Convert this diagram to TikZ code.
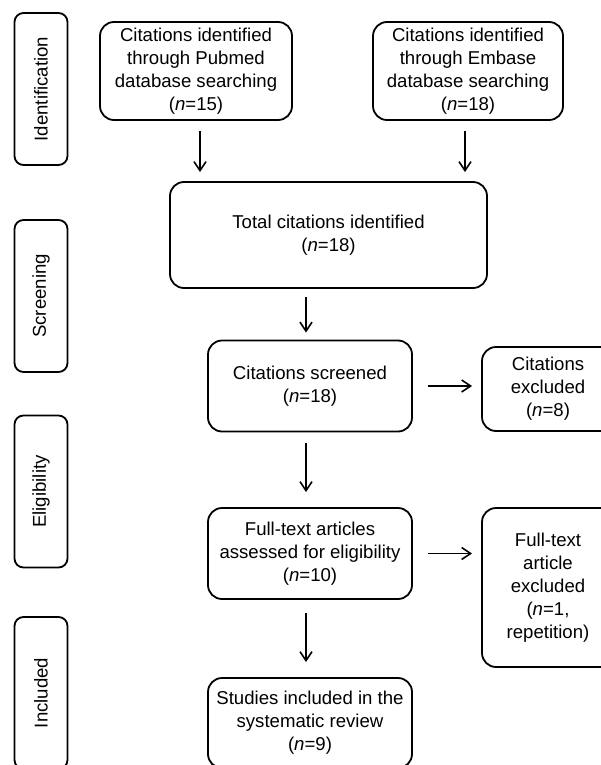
\documentclass[tikz,border=0pt]{standalone}
\usepackage{fontspec}
\setmainfont{Liberation Sans}
\usetikzlibrary{arrows.meta,positioning}

\begin{document}
\begin{tikzpicture}[x=1pt,y=-1pt,
    font=\fontsize{18.6}{23}\selectfont,
    stagebox/.style={draw,line width=1.8pt,rounded corners=9pt,rotate=90,
      minimum width=152pt,minimum height=53pt,inner sep=0pt},
    flowbox/.style={draw,line width=1.8pt,rounded corners=14pt,
      align=center,inner sep=2pt},
    flow/.style={-{Straight Barb[length=9pt,width=12pt]},line width=1.6pt,
      shorten <=10pt,shorten >=9pt}]
    \clip (0,0) rectangle (601,765);
    \useasboundingbox (0,0) rectangle (601,765);

    \foreach \stage/\ypos in {Identification/89,Screening/296,
      Eligibility/491.5,Included/693}
      \node[stagebox] (\stage) at (41,\ypos) {\stage};

    \node[flowbox,minimum width=192pt,minimum height=98pt]
      (pubmed) at (196,71)
      {Citations identified\\through Pubmed\\database searching\\
       (\textit{n}=15)};
    \node[flowbox,minimum width=190pt,minimum height=98pt]
      (embase) at (468,71)
      {Citations identified\\through Embase\\database searching\\
       (\textit{n}=18)};
    \node[flowbox,minimum width=317pt,minimum height=106pt]
      (total) at (328.5,235)
      {Total citations identified\\(\textit{n}=18)};
    \node[flowbox,minimum width=204pt,minimum height=91pt]
      (screened) at (310,386)
      {Citations screened\\(\textit{n}=18)};
    \node[flowbox,minimum width=132pt,minimum height=84pt]
      (excluded) at (548,389)
      {Citations\\excluded\\(\textit{n}=8)};
    \node[flowbox,minimum width=204pt,minimum height=91pt]
      (fulltext) at (310,553.5)
      {Full-text articles\\assessed for eligibility\\(\textit{n}=10)};
    \node[flowbox,minimum width=132pt,minimum height=159pt]
      (ftexcluded) at (548,587.5)
      {Full-text\\article\\excluded\\(\textit{n}=1,\\repetition)};
    \node[flowbox,minimum width=204pt,minimum height=90pt]
      (studies) at (310,723)
      {Studies included in the\\systematic review\\(\textit{n}=9)};

    \draw[flow] ([xshift=4pt]pubmed.south) --
      ([xshift=4pt]pubmed.south |- total.north);
    \draw[flow] ([xshift=-3pt]embase.south) --
      ([xshift=-3pt]embase.south |- total.north);
    \draw[flow,shorten <=8pt,shorten >=7pt]
      ([xshift=-4pt]total.south -| screened.north) --
      ([xshift=-4pt]screened.north);
    \draw[flow,shorten <=11pt,shorten >=15pt]
      ([xshift=-4pt]screened.south) -- ([xshift=-4pt]fulltext.north);
    \draw[flow,shorten <=13pt,shorten >=15pt]
      ([xshift=-4pt]fulltext.south) -- ([xshift=-4pt]studies.north);
    \draw[flow,shorten <=15pt,shorten >=9pt]
      (screened.east) -- (screened.east -| excluded.west);
    \draw[flow,shorten <=15pt,shorten >=9pt]
      (fulltext.east) -- (fulltext.east -| ftexcluded.west);
\end{tikzpicture}
\end{document}
